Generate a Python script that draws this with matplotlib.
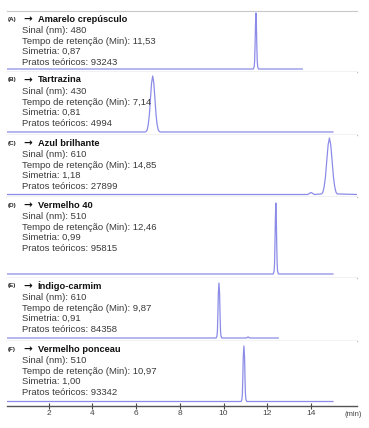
import matplotlib.pyplot as plt

plt.rcParams['font.family'] = ['Liberation Sans', 'DejaVu Sans']

# panel labels and peak info
letters = ['(A)', '(B)', '(C)', '(D)', '(E)', '(F)']
names = ['Amarelo crepúsculo', 'Tartrazina', 'Azul brilhante',
         'Vermelho 40', 'Índigo-carmim', 'Vermelho ponceau']
sinal = ['480', '430', '610', '510', '610', '510']
tempo = ['11,53', '7,14', '14,85', '12,46', '9,87', '10,97']
simetria = ['0,87', '0,81', '1,18', '0,99', '0,91', '1,00']
pratos = ['93243', '4994', '27899', '95815', '84358', '93342']

# chromatogram traces (min, relative signal)
a_t = [0.1, 11.36, 11.40, 11.42, 11.44, 11.46, 11.48, 11.50, 11.52, 11.54, 11.56, 11.60, 13.6]
a_y = [0, 0, 0.04, 0.14, 0.42, 0.80, 1.0, 0.80, 0.42, 0.14, 0.04, 0, 0]

b_t = [0.1, 6.40, 6.46, 6.51, 6.56, 6.61, 6.66, 6.71, 6.76, 6.81, 6.86, 6.91, 6.96, 7.01, 7.06, 7.12, 15.0]
b_y = [0, 0, 0.01, 0.04, 0.14, 0.32, 0.61, 0.88, 1.0, 0.88, 0.61, 0.32, 0.14, 0.04, 0.01, 0, 0]

c_t = [0.1, 13.85, 13.95, 14.0, 14.05, 14.15, 14.48, 14.54, 14.60, 14.66, 14.72, 14.78, 14.84,
       14.90, 14.96, 15.02, 15.08, 15.14, 15.20, 16.1]
c_y = [0, 0, 0.025, 0.035, 0.025, 0, 0.01, 0.04, 0.14, 0.32, 0.61, 0.88, 1.0,
       0.88, 0.61, 0.32, 0.14, 0.04, 0.01, 0]

d_t = [0.1, 12.27, 12.31, 12.33, 12.35, 12.37, 12.39, 12.41, 12.43, 12.45, 12.47, 12.51, 15.0]
d_y = [0, 0, 0.04, 0.14, 0.42, 0.80, 1.0, 0.80, 0.42, 0.14, 0.04, 0, 0]

e_t = [0.1, 9.66, 9.70, 9.72, 9.74, 9.76, 9.79, 9.82, 9.84, 9.86, 9.88, 9.92,
       11.05, 11.12, 11.19, 12.5]
e_y = [0, 0, 0.04, 0.14, 0.42, 0.80, 1.0, 0.80, 0.42, 0.14, 0.04, 0,
       0, 0.02, 0, 0]

f_t = [0.1, 10.80, 10.84, 10.86, 10.88, 10.90, 10.93, 10.96, 10.98, 11.00, 11.02, 11.06, 15.0]
f_y = [0, 0, 0.04, 0.14, 0.42, 0.80, 1.0, 0.80, 0.42, 0.14, 0.04, 0, 0]

traces = [(a_t, a_y), (b_t, b_y), (c_t, c_y), (d_t, d_y), (e_t, e_y), (f_t, f_y)]
ticks = [2, 4, 6, 8, 10, 12, 14]

W, H = 369, 428
# panel top, bottom, baseline, peak top (pixels)
boxes = [(11, 72, 69, 13), (72, 135, 132, 76), (135, 197, 194.5, 138),
         (197, 278, 274, 203), (278, 341, 338, 283), (341, 405.5, 401.5, 346)]
x_left, x_right = 7, 357
trace_col = '#8c8ce8'

fig = plt.figure(figsize=(W / 100, H / 100), dpi=100)

for i, (top, bot, base, peak) in enumerate(boxes):
    ax = fig.add_axes([x_left / W, 1 - bot / H, (x_right - x_left) / W, (bot - top) / H])
    t, y = traces[i]
    ax.plot(t, y, color=trace_col, lw=0.9, solid_joinstyle='round')
    sc = base - peak
    ax.set_ylim(-(bot - base) / sc, 1 + (peak - top) / sc)
    ax.set_xlim(0.1, 16.1)
    ax.set_yticks([])
    for s in ['left', 'right', 'top']:
        ax.spines[s].set_visible(False)
    if i == 0:
        ax.spines['top'].set_visible(True)
        ax.spines['top'].set_color('#c8c8c8')
    last = i == len(boxes) - 1
    ax.spines['bottom'].set_color('#555555' if last else '#c0c0c0')
    ax.spines['bottom'].set_linewidth(1.0)
    if last:
        ax.set_xticks(ticks)
        ax.set_xticklabels([str(v) for v in ticks])
        ax.tick_params(axis='x', direction='inout', length=5, width=0.8,
                       colors='#444444', labelsize=6, pad=1)
    else:
        ax.set_xticks([])

    # labels
    ty = top + 8
    fig.text(8 / W, 1 - ty / H, letters[i], fontsize=4.5, fontweight='bold',
             color='#222222', va='center', ha='left')
    fig.text(23 / W, 1 - ty / H, '\u2192', fontsize=7.5, fontweight='bold',
             family='DejaVu Sans', color='#111111', va='center', ha='left')
    fig.text(38 / W, 1 - ty / H, names[i], fontsize=6.7, fontweight='bold',
             color='#111111', va='center', ha='left')
    lines = ['Sinal (nm): ' + sinal[i],
             'Tempo de retenção (Min): ' + tempo[i],
             'Simetria: ' + simetria[i],
             'Pratos teóricos: ' + pratos[i]]
    for k, txt in enumerate(lines):
        ly = ty + 11.5 + 10.6 * k
        fig.text(22 / W, 1 - ly / H, txt, fontsize=6.8, color='#3a3a3a',
                 va='center', ha='left')

fig.text(353 / W, 1 - 414 / H, '(min)', fontsize=5.5, color='#444444',
         ha='center', va='center')

fig.savefig('out.png', dpi=100)
